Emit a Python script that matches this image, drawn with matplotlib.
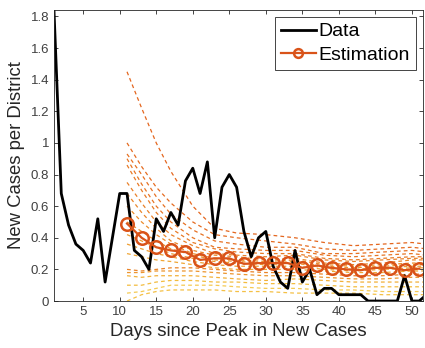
import matplotlib.pyplot as plt
import numpy as np

plt.rcParams['font.family'] = ['Liberation Sans', 'DejaVu Sans']

# observed data, days 1..52
days = np.arange(1, 53)
cases = [1.84, 0.68, 0.48, 0.36, 0.32, 0.24, 0.52, 0.12, 0.40, 0.68,
         0.68, 0.32, 0.28, 0.20, 0.52, 0.44, 0.56, 0.48, 0.76, 0.84,
         0.68, 0.88, 0.40, 0.72, 0.80, 0.72, 0.44, 0.28, 0.40, 0.44,
         0.22, 0.12, 0.08, 0.32, 0.12, 0.20, 0.04, 0.08, 0.08, 0.04,
         0.04, 0.04, 0.04, 0.00, 0.00, 0.00, 0.00, 0.00, 0.16, 0.00,
         0.00, 0.04]

# mean estimation (every other day)
est_days = [11, 13, 15, 17, 19, 21, 23, 25, 27, 29, 31, 33, 35, 37, 39, 41, 43, 45, 47, 49, 51]
est_vals = [0.49, 0.40, 0.34, 0.32, 0.31, 0.26, 0.27, 0.27, 0.235, 0.24, 0.24,
            0.24, 0.21, 0.225, 0.21, 0.20, 0.195, 0.21, 0.21, 0.195, 0.205]

# individual estimation runs (dashed), read at these days
run_days = [11, 13, 15, 17, 20, 23, 26, 30, 34, 38, 42, 46, 50, 52]
runs = [
    [1.45, 1.22, 1.00, 0.82, 0.60, 0.46, 0.43, 0.42, 0.40, 0.37, 0.35, 0.36, 0.37, 0.36],
    [1.00, 0.85, 0.72, 0.62, 0.50, 0.42, 0.40, 0.38, 0.36, 0.33, 0.32, 0.33, 0.34, 0.33],
    [0.93, 0.80, 0.66, 0.55, 0.45, 0.38, 0.36, 0.34, 0.34, 0.30, 0.30, 0.31, 0.32, 0.31],
    [0.90, 0.74, 0.60, 0.50, 0.40, 0.34, 0.33, 0.32, 0.32, 0.29, 0.28, 0.29, 0.30, 0.29],
    [0.86, 0.70, 0.56, 0.46, 0.37, 0.33, 0.31, 0.30, 0.30, 0.27, 0.26, 0.27, 0.28, 0.28],
    [0.75, 0.62, 0.50, 0.42, 0.35, 0.30, 0.29, 0.28, 0.29, 0.26, 0.25, 0.26, 0.27, 0.27],
    [0.68, 0.56, 0.46, 0.38, 0.32, 0.29, 0.28, 0.26, 0.27, 0.24, 0.23, 0.24, 0.26, 0.26],
    [0.60, 0.50, 0.42, 0.36, 0.30, 0.27, 0.26, 0.25, 0.26, 0.23, 0.22, 0.23, 0.24, 0.24],
    [0.50, 0.44, 0.38, 0.33, 0.29, 0.26, 0.25, 0.24, 0.25, 0.22, 0.21, 0.22, 0.23, 0.23],
    [0.42, 0.38, 0.34, 0.30, 0.27, 0.25, 0.24, 0.23, 0.24, 0.21, 0.20, 0.21, 0.22, 0.22],
    [0.36, 0.33, 0.30, 0.28, 0.25, 0.23, 0.22, 0.22, 0.22, 0.20, 0.19, 0.20, 0.21, 0.21],
    [0.30, 0.28, 0.26, 0.25, 0.23, 0.21, 0.20, 0.20, 0.20, 0.19, 0.18, 0.18, 0.19, 0.19],
    [0.20, 0.19, 0.20, 0.21, 0.21, 0.20, 0.19, 0.18, 0.18, 0.17, 0.16, 0.16, 0.17, 0.17],
    [0.18, 0.18, 0.19, 0.19, 0.19, 0.18, 0.17, 0.16, 0.16, 0.15, 0.14, 0.14, 0.15, 0.15],
    [0.16, 0.15, 0.16, 0.16, 0.16, 0.15, 0.14, 0.13, 0.14, 0.13, 0.12, 0.12, 0.12, 0.12],
    [0.10, 0.10, 0.12, 0.13, 0.13, 0.12, 0.12, 0.11, 0.11, 0.10, 0.09, 0.09, 0.09, 0.09],
    [0.05, 0.06, 0.08, 0.10, 0.10, 0.10, 0.09, 0.08, 0.08, 0.07, 0.07, 0.06, 0.06, 0.06],
    [0.00, 0.04, 0.06, 0.07, 0.07, 0.07, 0.06, 0.06, 0.05, 0.05, 0.05, 0.04, 0.04, 0.04],
]
run_colors = ['#E4661E', '#E56B20', '#E67022', '#E77524', '#E87A26', '#E98028',
              '#EA862A', '#EB8C2C', '#EC922E', '#ED9830', '#EE9E32', '#F0A635',
              '#E98328', '#EC952E', '#F2B038', '#F3BC3E', '#F5CA52', '#F4C045']

fig = plt.figure(figsize=(4.25, 3.48), dpi=100)
ax = fig.add_axes([0.127, 0.135, 0.868, 0.836])

for r, c in zip(runs, run_colors):
    ax.plot(run_days, r, color=c, linestyle=(0, (3, 2.5)), linewidth=0.9)

ax.plot(days, cases, color='black', linewidth=2.0, label='Data')
ax.plot(est_days, est_vals, color='#D95319', linewidth=1.6, marker='o',
        markersize=9, markerfacecolor='none', markeredgewidth=1.8, label='Estimation')

ax.set_xlim(1, 51.5)
ax.set_ylim(0, 1.84)
ax.set_xticks([5, 10, 15, 20, 25, 30, 35, 40, 45, 50])
yt = [0, 0.2, 0.4, 0.6, 0.8, 1.0, 1.2, 1.4, 1.6, 1.8]
ax.set_yticks(yt)
ax.set_yticklabels(['0', '0.2', '0.4', '0.6', '0.8', '1', '1.2', '1.4', '1.6', '1.8'])
ax.tick_params(direction='in', top=True, right=True, labelsize=9.5, colors='#262626',
               labelcolor='#404040', length=3, width=0.6)
for s in ax.spines.values():
    s.set_color('#262626')
    s.set_linewidth(0.6)

ax.set_xlabel('Days since Peak in New Cases', fontsize=13.3, color='#262626', labelpad=4)
ax.set_ylabel('New Cases per District', fontsize=13.3, color='#262626', labelpad=4)

leg = ax.legend(loc='upper right', fontsize=14, fancybox=False, framealpha=1,
                edgecolor='#262626', borderpad=0.3, handlelength=1.8,
                handletextpad=0.15, labelspacing=0.3, borderaxespad=0.35,
                markerscale=0.7)
leg.get_frame().set_linewidth(0.6)

fig.savefig('out.png', dpi=100)
